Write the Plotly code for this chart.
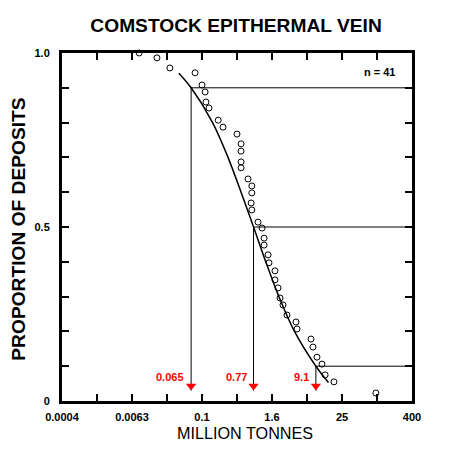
import numpy as np
import plotly.graph_objects as go

# Deposit tonnages (million tonnes) and their cumulative proportions
tonnage = [0.0083, 0.0168, 0.028, 0.076, 0.100, 0.113, 0.117, 0.132, 0.19, 0.23,
           0.40, 0.47, 0.47, 0.47, 0.47, 0.62, 0.72, 0.72, 0.70, 0.72,
           0.92, 1.08, 1.17, 1.17, 1.37, 1.42, 1.80, 1.80, 2.03, 2.20,
           2.47, 2.90, 4.14, 4.31, 7.5, 8.1, 9.5, 11.6, 13.1, 18.6, 98.0]
proportion = [1.0, 0.986, 0.957, 0.943, 0.908, 0.888, 0.859, 0.842, 0.807, 0.787,
              0.767, 0.739, 0.718, 0.687, 0.670, 0.638, 0.618, 0.598, 0.569, 0.549,
              0.514, 0.497, 0.468, 0.448, 0.420, 0.397, 0.374, 0.348, 0.325, 0.296,
              0.276, 0.247, 0.227, 0.207, 0.178, 0.155, 0.126, 0.106, 0.075, 0.055, 0.023]

# fitted lognormal curve
fit_tonnage = [0.040, 0.065, 0.152, 0.28, 0.47, 0.77, 1.25, 2.1, 3.9, 9.1, 15.0]
fit_proportion = [0.942, 0.9, 0.8, 0.7, 0.6, 0.5, 0.4, 0.3, 0.2, 0.1, 0.053]

# 90th / 50th / 10th percentile tonnages
quant_tonnage = [0.065, 0.77, 9.1]
quant_prop = [0.9, 0.5, 0.1]
quant_labels = ['0.065', '0.77', '9.1']

# x axis ticks (factor 4 per tick)
x_tickvals = [0.000390625, 0.0015625, 0.00625, 0.025, 0.1, 0.4, 1.6, 6.4, 25.6, 102.4, 409.6]
x_ticktext = ['0.0004', '', '0.0063', '', '0.1', '', '1.6', '', '25', '', '400']
y_tickvals = [0, 0.1, 0.2, 0.3, 0.4, 0.5, 0.6, 0.7, 0.8, 0.9, 1.0]
y_ticktext = ['0', '', '', '', '', '0.5', '', '', '', '', '1.0']

FONT = 'Liberation Sans, Arial, sans-serif'
arrow_bottom = 0.03   # where the vertical guide lines stop
arrow_head = 0.043    # centre of the red arrow heads
x_max = x_tickvals[-1]

fig = go.Figure()

# guide lines from the curve to the right axis and down to the x axis
for q, p in zip(quant_tonnage, quant_prop):
    fig.add_trace(go.Scatter(x=[x_max, q, q], y=[p, p, arrow_bottom], mode='lines',
                             line=dict(color='black', width=1), hoverinfo='skip'))

# fitted curve
fig.add_trace(go.Scatter(x=fit_tonnage, y=fit_proportion, mode='lines',
                         line=dict(color='black', width=1.5, shape='spline')))

# deposits
fig.add_trace(go.Scatter(x=tonnage, y=proportion, mode='markers', cliponaxis=False,
                         marker=dict(symbol='circle-open', size=6, color='black',
                                     line=dict(width=1, color='black'))))

# red arrow heads
fig.add_trace(go.Scatter(x=quant_tonnage, y=[arrow_head] * len(quant_tonnage), mode='markers',
                         marker=dict(symbol='triangle-down', size=9, color='red')))

# red labels
for q, lab in zip(quant_tonnage, quant_labels):
    fig.add_annotation(x=np.log10(q), y=0.068, xref='x', yref='y', text=lab, showarrow=False,
                       xanchor='right', yanchor='middle', xshift=-5,
                       font=dict(family=FONT, size=11, color='red', weight='bold'))

fig.add_annotation(x=0.96, y=0.945, xref='paper', yref='paper', text='n = 41', showarrow=False,
                   xanchor='right', yanchor='middle',
                   font=dict(family=FONT, size=11, color='black', weight='bold'))

# axis titles as annotations to place them like the original
fig.add_annotation(x=0.523, y=-0.093, xref='paper', yref='paper', text='MILLION TONNES',
                   showarrow=False, xanchor='center', yanchor='middle',
                   font=dict(family=FONT, size=16.2, color='black'))
fig.add_annotation(x=-0.123, y=0.495, xref='paper', yref='paper', text='PROPORTION OF DEPOSITS',
                   showarrow=False, textangle=-90, xanchor='center', yanchor='middle',
                   font=dict(family=FONT, size=19.2, color='black', weight='bold'))

fig.update_xaxes(type='log', range=[np.log10(x_tickvals[0]), np.log10(x_max)],
                 tickmode='array', tickvals=x_tickvals, ticktext=x_ticktext,
                 ticks='inside', ticklen=7, tickwidth=2, tickcolor='black',
                 showline=True, linewidth=3, linecolor='black', mirror='ticks',
                 showgrid=False, zeroline=False, ticklabelstandoff=4,
                 tickfont=dict(family=FONT, size=11, color='black', weight='bold'))
fig.update_yaxes(range=[0, 1], tickmode='array', tickvals=y_tickvals, ticktext=y_ticktext,
                 ticks='inside', ticklen=7, tickwidth=2, tickcolor='black',
                 showline=True, linewidth=3, linecolor='black', mirror='ticks',
                 showgrid=False, zeroline=False, ticklabelstandoff=7,
                 tickfont=dict(family=FONT, size=11, color='black', weight='bold'))

# page body adds an 8px margin, so the figure is 8px smaller and shifted up/left
fig.update_layout(
    width=442, height=446,
    margin=dict(l=54, r=38, t=45, b=53),
    paper_bgcolor='white', plot_bgcolor='white',
    showlegend=False,
    title=dict(text='COMSTOCK EPITHERMAL VEIN', x=0.516, xanchor='center', y=0.962, yanchor='middle',
               font=dict(family=FONT, size=19.2, color='black', weight='bold')),
)

fig.write_html("out.html")
